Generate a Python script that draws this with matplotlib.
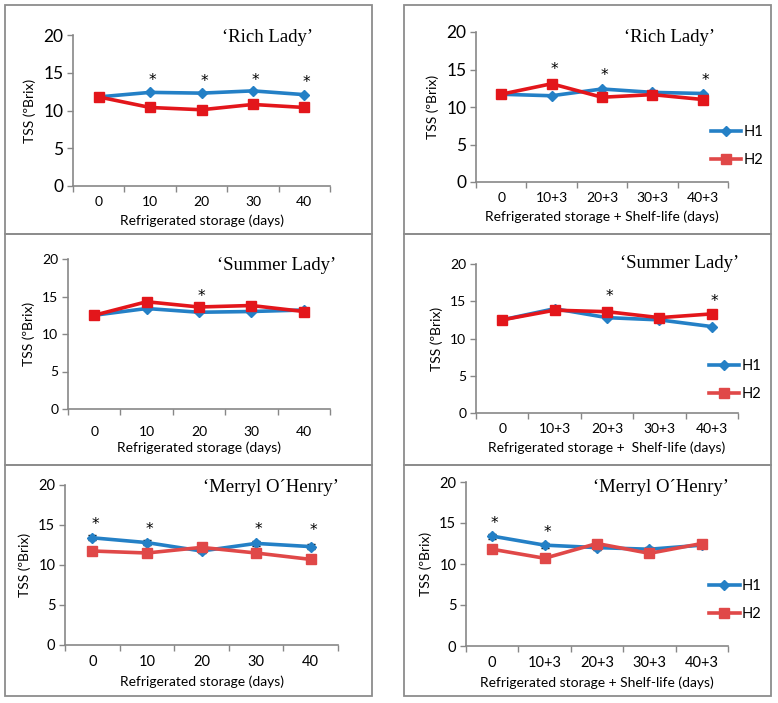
import numpy as np
import matplotlib
matplotlib.use('Agg')
from matplotlib import pyplot as plt
from matplotlib.lines import Line2D
from matplotlib.patches import Rectangle

W, H = 778, 703

# categories
days_storage = ['0', '10', '20', '30', '40']
days_shelf = ['0', '10+3', '20+3', '30+3', '40+3']

# TSS (ºBrix) values
rich_storage_h1 = [11.8, 12.4, 12.3, 12.6, 12.1]
rich_storage_h2 = [11.8, 10.4, 10.1, 10.8, 10.4]
rich_shelf_h1 = [11.7, 11.5, 12.4, 11.95, 11.8]
rich_shelf_h2 = [11.7, 13.1, 11.3, 11.65, 11.0]

summer_storage_h1 = [12.5, 13.4, 12.9, 13.0, 13.2]
summer_storage_h2 = [12.5, 14.3, 13.6, 13.8, 13.0]
summer_shelf_h1 = [12.5, 14.0, 12.8, 12.5, 11.6]
summer_shelf_h2 = [12.5, 13.8, 13.6, 12.8, 13.3]

merryl_storage_h1 = [13.4, 12.8, 11.75, 12.7, 12.3]
merryl_storage_h2 = [11.75, 11.5, 12.2, 11.5, 10.7]
merryl_shelf_h1 = [13.4, 12.3, 12.0, 11.8, 12.3]
merryl_shelf_h2 = [11.8, 10.7, 12.5, 11.3, 12.5]
merryl_err_h1 = [0.3, 0.3, 0.3, 0.3, 0.3]

# significance marks (category index, height)
rich_storage_stars = [(1, 14.0), (2, 13.8), (3, 14.0), (4, 13.7)]
rich_shelf_stars = [(1, 15.0), (2, 14.2), (4, 13.6)]
summer_storage_stars = [(2, 15.0)]
summer_shelf_stars = [(2, 15.7), (4, 15.0)]
merryl_storage_stars = [(0, 15.0), (1, 14.4), (3, 14.4), (4, 14.3)]
merryl_shelf_stars = [(0, 14.9), (1, 13.9)]

BLUE = '#2480c6'
RED = '#e3161b'
RED_LIGHT = '#e04848'
GRAY = '#878787'

plt.rcParams['font.family'] = ['Lato', 'DejaVu Sans']

fig = plt.figure(figsize=(W / 100, H / 100), dpi=100)


def px(left, top, right, bottom):
    return [left / W, 1 - bottom / H, (right - left) / W, (bottom - top) / H]


# panel frames
for x0, x1 in [(5, 372), (404, 771)]:
    for y0, y1 in [(5, 234), (234, 465), (465, 696)]:
        fig.patches.append(Rectangle((x0 / W, 1 - y1 / H), (x1 - x0) / W, (y1 - y0) / H,
                                     transform=fig.transFigure, fill=False,
                                     edgecolor='#8c8c8c', linewidth=1.3))


def panel(box, cats, h1, h2, red, title, title_xy, stars, xlabel, fs_y, fs_x,
          xpad=7.5, lpad=4.5, legend=None, err=None):
    ax = fig.add_axes(px(*box))
    idx = np.arange(len(cats))
    if err is not None:
        ax.errorbar(idx, h1, yerr=err, fmt='none', ecolor='black', elinewidth=1,
                    capsize=3, zorder=2)
    l1, = ax.plot(idx, h1, color=BLUE, lw=2.6, marker='D', ms=5, zorder=3, label='H1')
    ax.plot(idx, h2, color=red, lw=2.6, marker='s', ms=7, zorder=4, label='H2')
    ax.set_xlim(-0.5, len(cats) - 0.5)
    ax.set_ylim(0, 20)
    ax.set_yticks([0, 5, 10, 15, 20])
    ax.tick_params(axis='y', labelsize=fs_y, length=4, width=1, color=GRAY, pad=3)
    ax.set_xticks(idx)
    ax.set_xticklabels(cats)
    ax.tick_params(axis='x', which='major', length=0, labelsize=fs_x, pad=xpad)
    ax.set_xticks(np.arange(len(cats) + 1) - 0.5, minor=True)
    ax.tick_params(axis='x', which='minor', length=4, width=1, color=GRAY)
    for s in ['top', 'right']:
        ax.spines[s].set_visible(False)
    for s in ['left', 'bottom']:
        ax.spines[s].set_color(GRAY)
        ax.spines[s].set_linewidth(1.2)
    ax.set_xlabel(xlabel, fontsize=10, labelpad=lpad)
    ax.set_ylabel('TSS (ºBrix)', fontsize=10, labelpad=5)
    for i, yv in stars:
        ax.text(i + 0.05, yv, '*', ha='center', va='center', fontsize=11,
                family='DejaVu Sans')
    fig.text(title_xy[0] / W, 1 - title_xy[1] / H, title, ha='center', va='center',
             fontsize=13.5, family='Liberation Serif')
    if legend is not None:
        h2_proxy = Line2D([], [], color=RED_LIGHT, lw=2.6, marker='s', ms=7)
        ax.legend([l1, h2_proxy], ['H1', 'H2'], loc='center left',
                  bbox_to_anchor=legend, frameon=False, fontsize=10.5,
                  handlelength=2.1, handletextpad=0.15, labelspacing=0.95,
                  borderaxespad=0)
    return ax


panel((73, 35, 330, 186), days_storage, rich_storage_h1, rich_storage_h2, RED,
      '‘Rich Lady’', (268, 37), rich_storage_stars, 'Refrigerated storage (days)', 12.5, 10)
panel((476, 32, 728, 182), days_shelf, rich_shelf_h1, rich_shelf_h2, RED,
      '‘Rich Lady’', (670, 37), rich_shelf_stars,
      'Refrigerated storage + Shelf-life (days)', 12.5, 10, legend=(0.908, 0.24))
panel((68, 259, 330, 409), days_storage, summer_storage_h1, summer_storage_h2, RED,
      '‘Summer Lady’', (277, 266), summer_storage_stars, 'Refrigerated storage (days)',
      10, 10, xpad=12, lpad=2.5)
panel((476, 264, 738, 413), days_shelf, summer_shelf_h1, summer_shelf_h2, RED,
      '‘Summer Lady’', (680, 264), summer_shelf_stars,
      'Refrigerated storage +  Shelf-life (days)', 10, 10, legend=(0.866, 0.22))
panel((65, 485, 338, 645), days_storage, merryl_storage_h1, merryl_storage_h2, RED_LIGHT,
      '‘Merryl O´Henry’', (271, 488), merryl_storage_stars, 'Refrigerated storage (days)',
      10.5, 10.5, err=merryl_err_h1)
panel((466, 482, 728, 646), days_shelf, merryl_shelf_h1, merryl_shelf_h2, RED_LIGHT,
      '‘Merryl O´Henry’', (661, 488), merryl_shelf_stars,
      'Refrigerated storage + Shelf-life (days)', 10.5, 10.5, legend=(0.905, 0.28),
      err=merryl_err_h1)

fig.savefig('out.png', dpi=100)
